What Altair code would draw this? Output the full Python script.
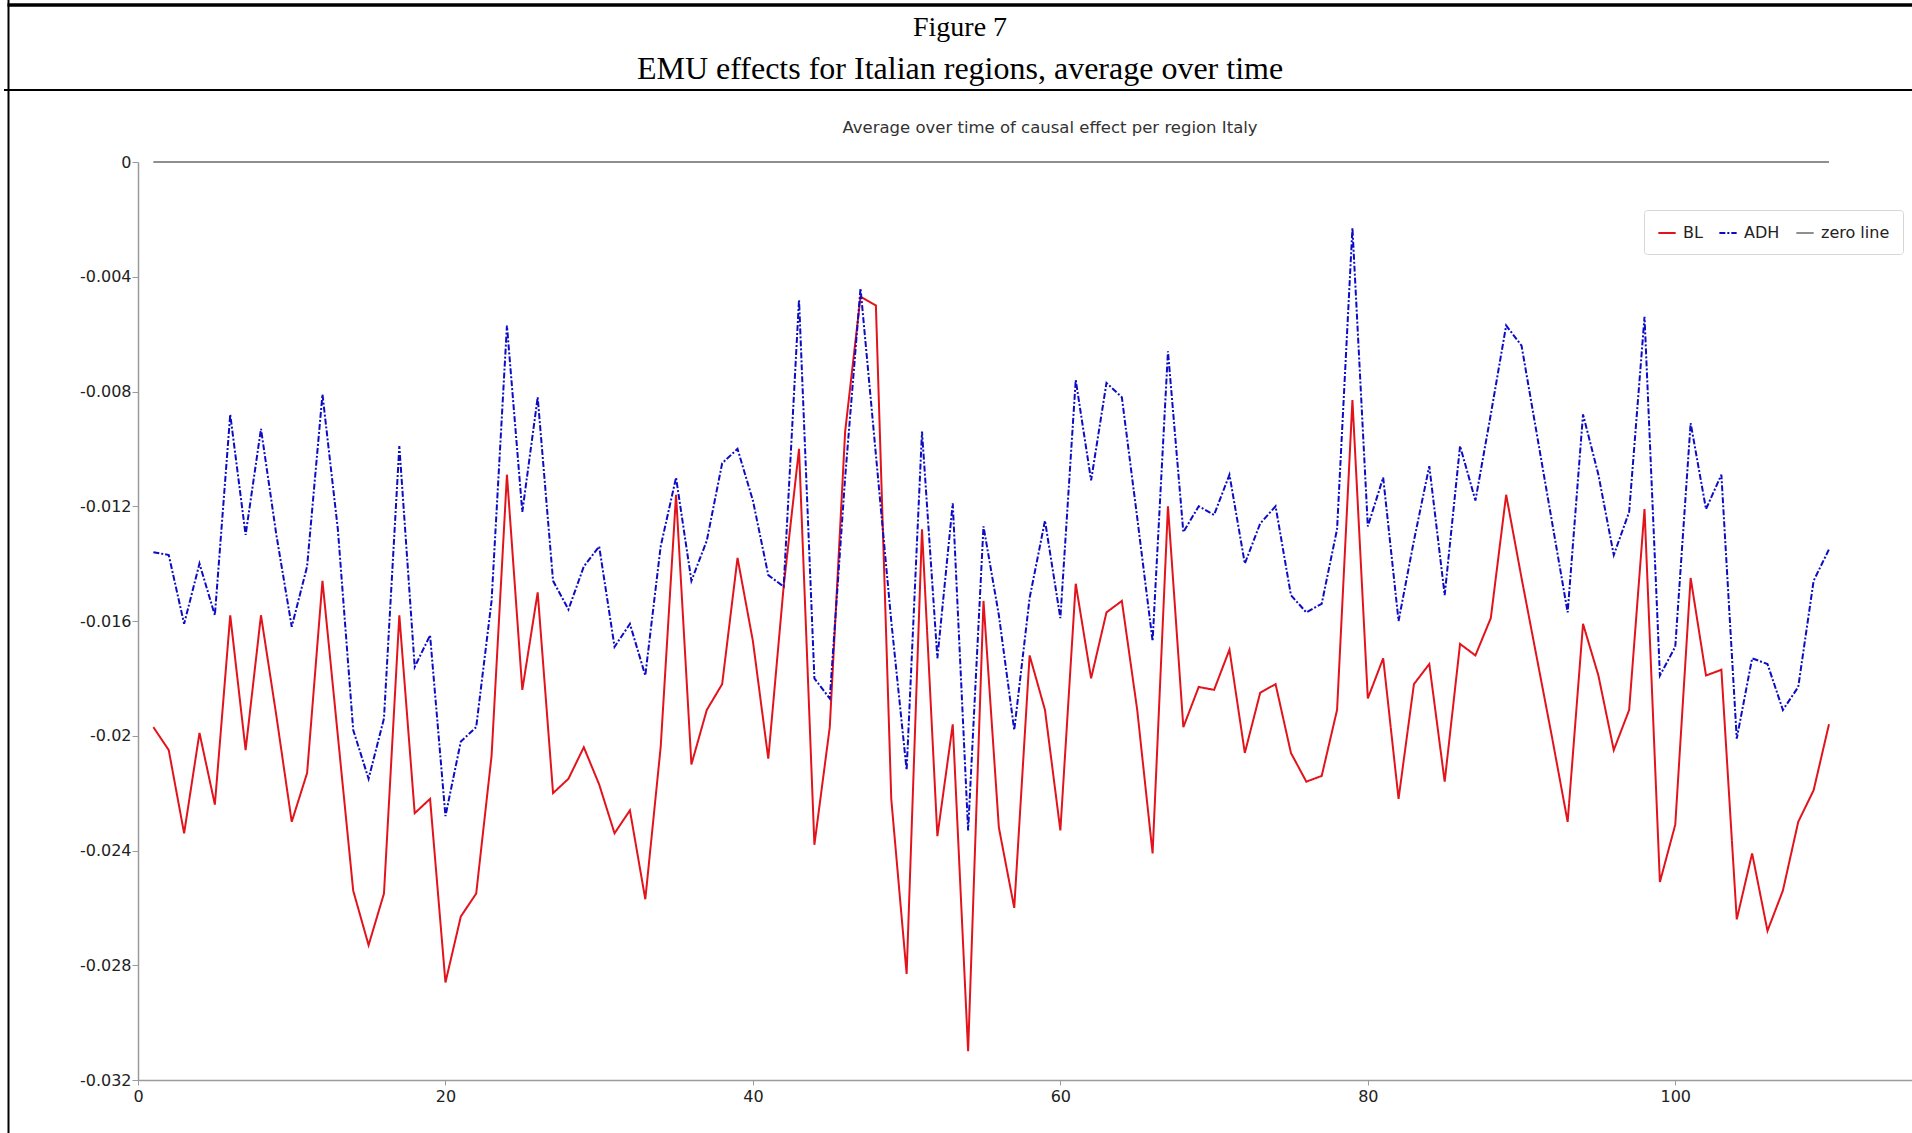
import altair as alt
import pandas as pd

# ---------------- data ----------------
x_index = list(range(1, 111))

bl = [
    -0.0197, -0.0205, -0.0234, -0.0199, -0.0224, -0.0158, -0.0205, -0.0158, -0.0193, -0.0230,
    -0.0213, -0.0146, -0.0200, -0.0254, -0.0273, -0.0255, -0.0158, -0.0227, -0.0222, -0.0286,
    -0.0263, -0.0255, -0.0207, -0.0109, -0.0184, -0.0150, -0.0220, -0.0215, -0.0204, -0.0217,
    -0.0234, -0.0226, -0.0257, -0.0204, -0.0116, -0.0210, -0.0191, -0.0182, -0.0138, -0.0167,
    -0.0208, -0.0148, -0.0100, -0.0238, -0.0197, -0.0094, -0.0047, -0.0050, -0.0222, -0.0283,
    -0.0128, -0.0235, -0.0196, -0.0310, -0.0153, -0.0232, -0.0260, -0.0172, -0.0191, -0.0233,
    -0.0147, -0.0180, -0.0157, -0.0153, -0.0191, -0.0241, -0.0120, -0.0197, -0.0183, -0.0184,
    -0.0170, -0.0206, -0.0185, -0.0182, -0.0206, -0.0216, -0.0214, -0.0191, -0.0083, -0.0187,
    -0.0173, -0.0222, -0.0182, -0.0175, -0.0216, -0.0168, -0.0172, -0.0159, -0.0116, -0.0145,
    -0.0173, -0.0201, -0.0230, -0.0161, -0.0179, -0.0205, -0.0191, -0.0121, -0.0251, -0.0231,
    -0.0145, -0.0179, -0.0177, -0.0264, -0.0241, -0.0268, -0.0254, -0.0230, -0.0219, -0.0196,
]

adh = [
    -0.0136, -0.0137, -0.0161, -0.0140, -0.0158, -0.0088, -0.0130, -0.0093, -0.0130, -0.0162,
    -0.0141, -0.0081, -0.0128, -0.0198, -0.0215, -0.0194, -0.0099, -0.0176, -0.0165, -0.0228,
    -0.0202, -0.0197, -0.0153, -0.0057, -0.0122, -0.0082, -0.0146, -0.0156, -0.0141, -0.0134,
    -0.0169, -0.0161, -0.0179, -0.0134, -0.0110, -0.0146, -0.0132, -0.0105, -0.0100, -0.0118,
    -0.0144, -0.0148, -0.0048, -0.0180, -0.0187, -0.0110, -0.0044, -0.0102, -0.0160, -0.0212,
    -0.0094, -0.0173, -0.0119, -0.0233, -0.0127, -0.0158, -0.0198, -0.0152, -0.0125, -0.0159,
    -0.0076, -0.0111, -0.0077, -0.0082, -0.0124, -0.0167, -0.0066, -0.0129, -0.0120, -0.0123,
    -0.0109, -0.0140, -0.0126, -0.0120, -0.0151, -0.0157, -0.0154, -0.0128, -0.0023, -0.0127,
    -0.0110, -0.0160, -0.0132, -0.0106, -0.0151, -0.0099, -0.0118, -0.0088, -0.0057, -0.0064,
    -0.0095, -0.0126, -0.0157, -0.0088, -0.0109, -0.0137, -0.0122, -0.0054, -0.0179, -0.0169,
    -0.0091, -0.0121, -0.0109, -0.0201, -0.0173, -0.0175, -0.0191, -0.0183, -0.0146, -0.0135,
]

zero_x = [1, 110]
zero_y = [0.0, 0.0]

series_names = ["BL", "ADH", "zero line"]
series_colors = ["#e3131c", "#0c0cc4", "#8f8f8f"]
series_dashes = [[1, 0], [6, 2, 2, 2], [1, 0]]
series_widths = [2, 2, 1]

y_ticks = [0, -0.004, -0.008, -0.012, -0.016, -0.02, -0.024, -0.028, -0.032]
x_ticks = [0, 20, 40, 60, 80, 100]

header_lines = ["Figure 7", "EMU effects for Italian regions, average over time"]
chart_title = "Average over time of causal effect per region Italy"

# ---------------- tables ----------------
rows = []
for xi, v in zip(x_index, bl):
    rows.append({"x": xi, "value": v, "series": "BL"})
for xi, v in zip(x_index, adh):
    rows.append({"x": xi, "value": v, "series": "ADH"})
for xi, v in zip(zero_x, zero_y):
    rows.append({"x": xi, "value": v, "series": "zero line"})
df = pd.DataFrame(rows)

W = 1774
H = 918
PAD_L, PAD_T, PAD_R, PAD_B = 138, 162, 0, 53

one = pd.DataFrame({"k": [0]})

lines = alt.Chart(df).mark_line(interpolate="linear", strokeJoin="miter").encode(
    x=alt.X(
        "x:Q",
        scale=alt.Scale(domain=[0, 115.4], nice=False, zero=False),
        axis=alt.Axis(
            values=x_ticks, title=None, grid=False, labelFlush=False,
            tickSize=5, labelPadding=3, domainColor="#9a9a9a", tickColor="#9a9a9a",
            domainWidth=1.5, labelFont="DejaVu Sans", labelFontSize=16, labelColor="#222222",
        ),
    ),
    y=alt.Y(
        "value:Q",
        scale=alt.Scale(domain=[-0.032, 0], nice=False, zero=False),
        axis=alt.Axis(
            values=y_ticks, title=None, grid=False, labelOverlap=False,
            labelExpr="replace(format(datum.value, '~g'), '\u2212', '-')",
            tickSize=6, labelPadding=1, domainColor="#9a9a9a", tickColor="#9a9a9a",
            domainWidth=1.5, labelFont="DejaVu Sans", labelFontSize=16, labelColor="#222222",
        ),
    ),
    color=alt.Color(
        "series:N", sort=series_names,
        scale=alt.Scale(domain=series_names, range=series_colors),
        legend=alt.Legend(title=None),
    ),
    strokeDash=alt.StrokeDash(
        "series:N", sort=series_names,
        scale=alt.Scale(domain=series_names, range=series_dashes),
        legend=alt.Legend(title=None),
    ),
    strokeWidth=alt.StrokeWidth(
        "series:N", sort=series_names,
        scale=alt.Scale(domain=series_names, range=series_widths),
        legend=alt.Legend(title=None),
    ),
)

# frame lines of the figure box
left_border = alt.Chart(one).mark_rule(color="black", strokeWidth=2).encode(
    x=alt.value(-129.5), y=alt.value(-PAD_T), y2=alt.value(H + PAD_B)
)
top_line = alt.Chart(one).mark_rule(color="black", strokeWidth=3.5).encode(
    x=alt.value(-130.5), x2=alt.value(W), y=alt.value(-157)
)
mid_line = alt.Chart(one).mark_rule(color="black", strokeWidth=2).encode(
    x=alt.value(-134), x2=alt.value(W), y=alt.value(-72)
)

head1 = alt.Chart(pd.DataFrame({"t": [header_lines[0]]})).mark_text(
    font="Liberation Serif", fontSize=28, color="black", align="center", baseline="middle"
).encode(text="t:N", x=alt.value(822), y=alt.value(-134))

head2 = alt.Chart(pd.DataFrame({"t": [header_lines[1]]})).mark_text(
    font="Liberation Serif", fontSize=32, color="black", align="center", baseline="middle"
).encode(text="t:N", x=alt.value(822), y=alt.value(-93))

sub = alt.Chart(pd.DataFrame({"t": [chart_title]})).mark_text(
    font="DejaVu Sans", fontSize=16.5, color="#333333", align="center", baseline="middle"
).encode(text="t:N", x=alt.value(912), y=alt.value(-34))

chart = alt.layer(
    left_border, top_line, mid_line, head1, head2, sub, lines
).properties(
    width=W,
    height=H,
    autosize=alt.AutoSizeParams(type="none"),
    padding={"left": PAD_L, "top": PAD_T, "right": PAD_R, "bottom": PAD_B},
    background="white",
).configure_view(
    stroke=None
).configure_legend(
    orient="none",
    legendX=1506,
    legendY=48,
    direction="horizontal",
    columns=3,
    fillColor="white",
    strokeColor="#d6d6d6",
    cornerRadius=3,
    padding=13,
    labelFont="DejaVu Sans",
    labelFontSize=16,
    labelColor="#222222",
    symbolType="stroke",
    symbolSize=300,
    columnPadding=12,
    labelOffset=6,
)

chart.save("out.html", embed_options={"renderer": "svg", "actions": False})
